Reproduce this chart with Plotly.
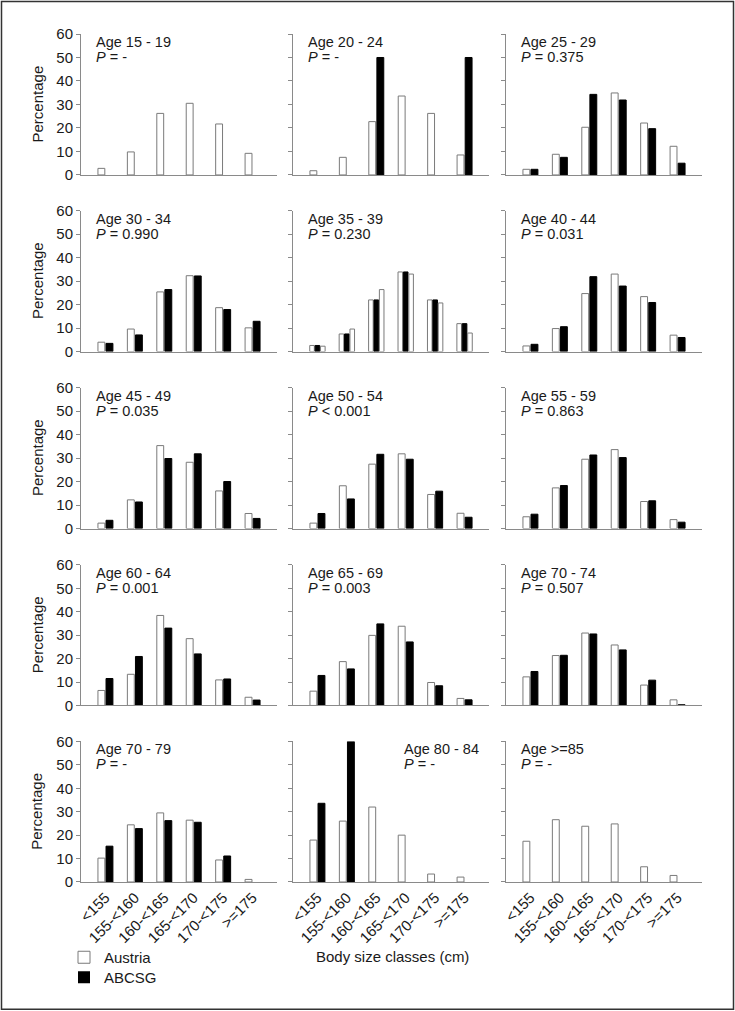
import plotly.graph_objects as go

# ---------------- data ----------------
categories = ["<155", "155-<160", "160-<165", "165-<170", "170-<175", ">=175"]

age_labels = ["Age 15 - 19", "Age 20 - 24", "Age 25 - 29",
              "Age 30 - 34", "Age 35 - 39", "Age 40 - 44",
              "Age 45 - 49", "Age 50 - 54", "Age 55 - 59",
              "Age 60 - 64", "Age 65 - 69", "Age 70 - 74",
              "Age 70 - 79", "Age 80 - 84", "Age >=85"]

p_labels = ["= -", "= -", "= 0.375",
            "= 0.990", "= 0.230", "= 0.031",
            "= 0.035", "< 0.001", "= 0.863",
            "= 0.001", "= 0.003", "= 0.507",
            "= -", "= -", "= -"]

aut_15_19 = [2.8, 9.8, 26.2, 30.5, 21.7, 9.2]
abc_15_19 = [0, 0, 0, 0, 0, 0]
aut_20_24 = [1.8, 7.5, 22.7, 33.6, 26.2, 8.5]
abc_20_24 = [0, 0, 50.0, 0, 0, 50.0]
aut_25_29 = [2.4, 8.8, 20.3, 34.9, 22.1, 12.2]
abc_25_29 = [2.4, 7.5, 34.3, 31.9, 19.7, 5.0]
aut_30_34 = [4.0, 9.6, 25.4, 32.3, 18.7, 10.1]
abc_30_34 = [3.5, 7.1, 26.4, 32.2, 17.9, 12.9]
aut_35_39 = [2.6, 7.5, 22.0, 33.9, 22.0, 11.9]
abc_35_39 = [2.6, 7.5, 22.0, 33.9, 22.0, 11.9]
aut2_35_39 = [2.3, 9.6, 26.4, 33.0, 20.7, 7.9]
aut_40_44 = [2.4, 9.8, 24.7, 33.0, 23.4, 7.0]
abc_40_44 = [3.1, 10.6, 31.9, 27.9, 20.9, 6.0]
aut_45_49 = [2.3, 12.2, 35.3, 28.2, 16.0, 6.4]
abc_45_49 = [3.5, 11.3, 29.8, 31.8, 20.0, 4.3]
aut_50_54 = [2.3, 18.2, 27.4, 31.8, 14.5, 6.5]
abc_50_54 = [6.4, 12.6, 31.6, 29.5, 15.9, 4.8]
aut_55_59 = [5.0, 17.3, 29.5, 33.6, 11.5, 3.8]
abc_55_59 = [6.1, 18.3, 31.3, 30.2, 11.8, 2.7]
aut_60_64 = [6.4, 13.3, 38.4, 28.5, 10.9, 3.5]
abc_60_64 = [11.5, 20.9, 33.0, 22.0, 11.3, 2.3]
aut_65_69 = [6.1, 18.7, 29.9, 33.8, 9.8, 3.0]
abc_65_69 = [12.8, 15.6, 34.8, 27.1, 8.4, 2.4]
aut_70_74 = [12.2, 21.3, 30.9, 25.8, 8.7, 2.4]
abc_70_74 = [14.5, 21.4, 30.5, 23.7, 10.8, 0.3]
aut_70_79 = [10.2, 24.4, 29.5, 26.4, 9.4, 1.1]
abc_70_79 = [15.3, 22.8, 26.2, 25.5, 11.1, 0]
aut_80_84 = [17.9, 26.0, 32.0, 20.0, 3.4, 2.1]
abc_80_84 = [33.6, 60.0, 0, 0, 0, 0]
aut_85 = [17.4, 26.6, 23.8, 24.8, 6.5, 2.8]
abc_85 = [0, 0, 0, 0, 0, 0]

y_ticks = [0, 10, 20, 30, 40, 50, 60]

panels = [
    [aut_15_19, abc_15_19], [aut_20_24, abc_20_24], [aut_25_29, abc_25_29],
    [aut_30_34, abc_30_34], [aut_35_39, abc_35_39, aut2_35_39], [aut_40_44, abc_40_44],
    [aut_45_49, abc_45_49], [aut_50_54, abc_50_54], [aut_55_59, abc_55_59],
    [aut_60_64, abc_60_64], [aut_65_69, abc_65_69], [aut_70_74, abc_70_74],
    [aut_70_79, abc_70_79], [aut_80_84, abc_80_84], [aut_85, abc_85],
]

# ---------------- layout geometry (pixels) ----------------
W, H = 735, 1011
L, R, T, B = 81, 702, 34, 882.3
PW, PH = R - L, B - T
col_px = [(81, 277), (293, 489), (506, 702)]
row_px = [(34, 175), (210.7, 351.7), (387.7, 528.7), (565, 705.7), (741.7, 882.3)]


def fx(px):
    return (px - L) / PW


def fy(py):
    return (B - py) / PH


FONT = "Liberation Sans, Arial, sans-serif"
TXT = "#1a1a1a"
AX = "#8a8a8a"

fig = go.Figure()

styles = [
    dict(name="Austria", color="white", line="#7a7a7a", legend="legend"),
    dict(name="ABCSG", color="black", line="black", legend="legend2"),
    dict(name="Austria", color="white", line="#7a7a7a", legend="legend"),
]

annotations = []
for i, series in enumerate(panels):
    n = i + 1
    r, c = divmod(i, 3)
    xa = "x" if n == 1 else f"x{n}"
    ya = "y" if n == 1 else f"y{n}"
    for k, vals in enumerate(series):
        st = styles[k]
        fig.add_trace(go.Bar(
            x=categories, y=vals, name=st["name"],
            marker=dict(color=st["color"],
                        line=dict(color=st["line"],
                                  width=[1 if v > 0 else 0 for v in vals])),
            xaxis=xa, yaxis=ya,
            showlegend=(i == 0 and k < 2),
            legend=st["legend"],
            hoverinfo="skip",
        ))
    (x0, x1), (y0, y1) = col_px[c], row_px[r]
    axkey = "xaxis" if n == 1 else f"xaxis{n}"
    aykey = "yaxis" if n == 1 else f"yaxis{n}"
    fig.layout[axkey] = dict(
        domain=[fx(x0), fx(x1)], anchor=ya, range=[-0.83, 5.83],
        showline=True, linecolor=AX, linewidth=1, ticks="",
        showticklabels=(r == 4), tickangle=-45,
        tickfont=dict(family=FONT, size=15, color=TXT),
        showgrid=False, zeroline=False, fixedrange=True,
    )
    fig.layout[aykey] = dict(
        domain=[fy(y1), fy(y0)], anchor=xa, range=[0, 60],
        tickvals=y_ticks, showline=True, linecolor=AX, linewidth=1,
        ticks="outside", ticklen=4, tickcolor=AX,
        showticklabels=(c == 0),
        tickfont=dict(family=FONT, size=15, color=TXT),
        showgrid=False, zeroline=False, fixedrange=True,
    )
    xoff = 15 if i != 13 else 111
    annotations.append(dict(
        xref=f"{xa} domain", yref=f"{ya} domain", x=0, y=1,
        xshift=xoff - 2, yshift=-8, xanchor="left", yanchor="middle",
        text=age_labels[i], showarrow=False,
        font=dict(family=FONT, size=14.5, color=TXT),
    ))
    annotations.append(dict(
        xref=f"{xa} domain", yref=f"{ya} domain", x=0, y=1,
        xshift=xoff - 2, yshift=-23, xanchor="left", yanchor="middle",
        text=f"<i>P</i> {p_labels[i]}", showarrow=False,
        font=dict(family=FONT, size=14.5, color=TXT),
    ))
    if c == 0:
        annotations.append(dict(
            xref="paper", yref="paper", x=fx(37), y=fy((y0 + y1) / 2),
            xanchor="center", yanchor="middle", textangle=-90,
            text="Percentage", showarrow=False,
            font=dict(family=FONT, size=15, color=TXT),
        ))

annotations.append(dict(
    xref="paper", yref="paper", x=fx(392), y=fy(957),
    xanchor="center", yanchor="middle", text="Body size classes (cm)",
    showarrow=False, font=dict(family=FONT, size=15, color=TXT),
))

legend_common = dict(
    xref="container", yref="container", xanchor="left", yanchor="top",
    font=dict(family=FONT, size=15, color=TXT),
    bgcolor="rgba(0,0,0,0)", borderwidth=0,
    itemclick=False, itemdoubleclick=False,
)

fig.update_layout(
    width=W, height=H,
    margin=dict(l=L, r=W - R, t=T, b=H - B, pad=0, autoexpand=False),
    paper_bgcolor="white", plot_bgcolor="white",
    barmode="group", bargap=0.45, bargroupgap=0.15,
    annotations=annotations,
    showlegend=True,
    legend=dict(x=64 / W, y=1 - 941 / H, **legend_common),
    legend2=dict(x=64 / W, y=1 - 961 / H, **legend_common),
    shapes=[dict(
        type="rect", xref="paper", yref="paper",
        x0=fx(1.5), x1=fx(733.5), y0=fy(1.5), y1=fy(1009.5),
        line=dict(color="#333333", width=1.5), fillcolor="rgba(0,0,0,0)",
        layer="above",
    )],
)

fig.write_html(
    "out.html",
    config={"displayModeBar": False},
    post_script="document.body.style.margin='0';document.body.style.overflow='hidden';",
)
